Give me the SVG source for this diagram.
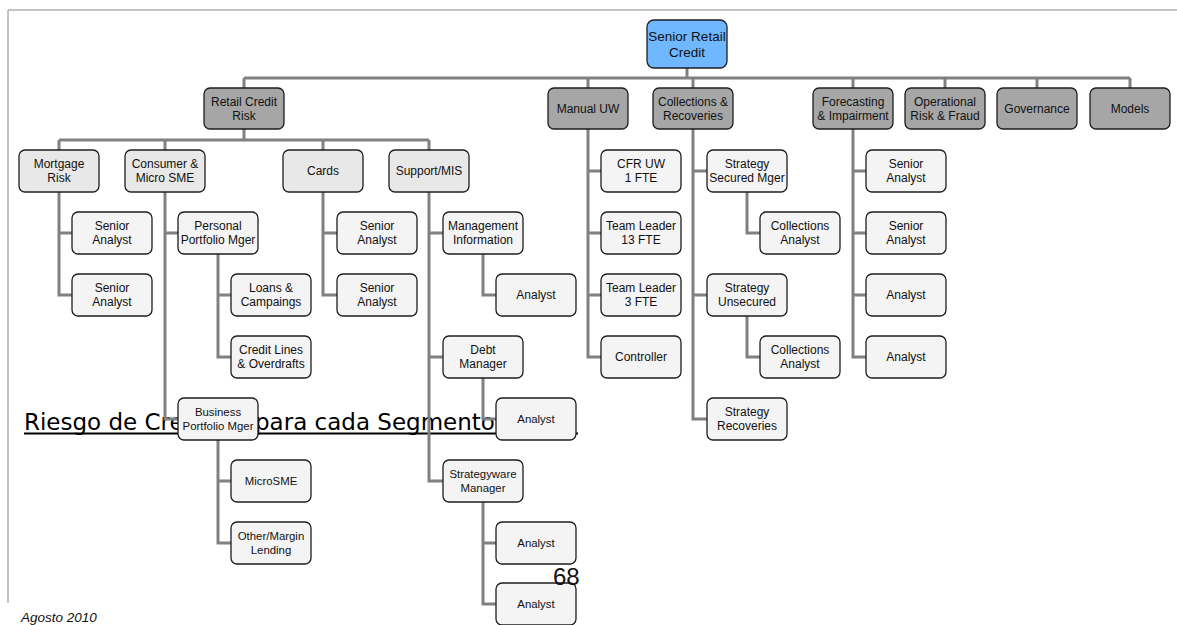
<svg xmlns="http://www.w3.org/2000/svg" width="1177" height="625" viewBox="0 0 1177 625">
<style>
.frame{fill:none;stroke:#b0b0b0;stroke-width:1.5}
.c{fill:none;stroke:#808080;stroke-width:3;stroke-linejoin:miter}
.b{stroke:#1e1e1e;stroke-width:1.3}
.root{fill:#6fb7ff}
.l1{fill:#a6a6a6}
.l2{fill:#e8e8e8}
.lf{fill:#f4f4f4}
text{font-family:"Liberation Sans",Arial,sans-serif;fill:#111}
.t{font-size:12px;text-anchor:middle}
.s{font-size:11.4px;text-anchor:middle}
.r{font-size:13.5px;text-anchor:middle}
.title{font-family:"DejaVu Sans",Verdana,sans-serif;font-size:23px;fill:#000}
</style>
<g id="frame">
<path class="frame" d="M8,10 H1177 M8,10 V603"/>
</g>
<g id="title">
<text class="title" x="24" y="430">Riesgo de Cre<tspan x="255">para cada Segmento</tspan></text>
<line x1="24" y1="433.5" x2="578" y2="433.5" stroke="#000" stroke-width="1.8"/>
</g>
<g id="connectors">
<path class="c" d="M687,68 V78 M244,78 H1130 M244,78 V88 M588,78 V88 M693,78 V88 M853,78 V88 M945,78 V88 M1037,78 V88 M1130,78 V88"/>
<path class="c" d="M244,129 V140 M59,140 H429 M59,140 V150 M165,140 V150 M323,140 V150 M429,140 V150"/>
<path class="c" d="M59,192 V295 H72 M59,233 H72"/>
<path class="c" d="M165,192 V419 H178 M165,233 H178"/>
<path class="c" d="M218,254 V357 H231 M218,295 H231"/>
<path class="c" d="M218,440 V543 H231 M218,481 H231"/>
<path class="c" d="M323,192 V295 H337 M323,233 H337"/>
<path class="c" d="M429,192 V481 H443 M429,233 H443 M429,357 H443"/>
<path class="c" d="M483,254 V295 H496"/>
<path class="c" d="M483,378 V419 H496"/>
<path class="c" d="M483,502 V604 H496 M483,543 H496"/>
<path class="c" d="M588,129 V357 H601 M588,171 H601 M588,233 H601 M588,295 H601"/>
<path class="c" d="M693,129 V419 H707 M693,171 H707 M693,295 H707"/>
<path class="c" d="M747,192 V233 H760"/>
<path class="c" d="M747,316 V357 H760"/>
<path class="c" d="M853,129 V357 H866 M853,171 H866 M853,233 H866 M853,295 H866"/>
</g>
<g id="n-root"><rect class="b root" x="647" y="20" width="80" height="48" rx="7"/><text class="r"><tspan x="687" y="40.5">Senior Retail</tspan><tspan x="687" y="56.5">Credit</tspan></text></g>
<g id="n-rcr"><rect class="b l1" x="204" y="88" width="80" height="41" rx="6"/><text class="t"><tspan x="244" y="105.5">Retail Credit</tspan><tspan x="244" y="119.5">Risk</tspan></text></g>
<g id="n-muw"><rect class="b l1" x="548" y="88" width="80" height="41" rx="6"/><text class="t" x="588" y="112.5">Manual UW</text></g>
<g id="n-col"><rect class="b l1" x="653" y="88" width="80" height="41" rx="6"/><text class="t"><tspan x="693" y="105.5">Collections &amp;</tspan><tspan x="693" y="119.5">Recoveries</tspan></text></g>
<g id="n-fci"><rect class="b l1" x="813" y="88" width="80" height="41" rx="6"/><text class="t"><tspan x="853" y="105.5">Forecasting</tspan><tspan x="853" y="119.5">&amp; Impairment</tspan></text></g>
<g id="n-orf"><rect class="b l1" x="905" y="88" width="80" height="41" rx="6"/><text class="t"><tspan x="945" y="105.5">Operational</tspan><tspan x="945" y="119.5">Risk &amp; Fraud</tspan></text></g>
<g id="n-gov"><rect class="b l1" x="997" y="88" width="80" height="41" rx="6"/><text class="t" x="1037" y="112.5">Governance</text></g>
<g id="n-mod"><rect class="b l1" x="1090" y="88" width="80" height="41" rx="6"/><text class="t" x="1130" y="112.5">Models</text></g>
<g id="n-mortgage"><rect class="b l2" x="19" y="150" width="80" height="42" rx="6"/><text class="t"><tspan x="59" y="168">Mortgage</tspan><tspan x="59" y="182">Risk</tspan></text></g>
<g id="n-consumer"><rect class="b l2" x="125" y="150" width="80" height="42" rx="6"/><text class="t"><tspan x="165" y="168">Consumer &amp;</tspan><tspan x="165" y="182">Micro SME</tspan></text></g>
<g id="n-cards"><rect class="b l2" x="283" y="150" width="80" height="42" rx="6"/><text class="t" x="323" y="175">Cards</text></g>
<g id="n-support"><rect class="b l2" x="389" y="150" width="80" height="42" rx="6"/><text class="t" x="429" y="175">Support/MIS</text></g>
<g id="n-mr-sa1"><rect class="b lf" x="72" y="212" width="80" height="42" rx="6"/><text class="t"><tspan x="112" y="230">Senior</tspan><tspan x="112" y="244">Analyst</tspan></text></g>
<g id="n-mr-sa2"><rect class="b lf" x="72" y="274" width="80" height="42" rx="6"/><text class="t"><tspan x="112" y="292">Senior</tspan><tspan x="112" y="306">Analyst</tspan></text></g>
<g id="n-ppm"><rect class="b lf" x="178" y="212" width="80" height="42" rx="6"/><text class="t"><tspan x="218" y="230">Personal</tspan><tspan x="218" y="244">Portfolio Mger</tspan></text></g>
<g id="n-loans"><rect class="b lf" x="231" y="274" width="80" height="42" rx="6"/><text class="t"><tspan x="271" y="292">Loans &amp;</tspan><tspan x="271" y="306">Campaings</tspan></text></g>
<g id="n-clo"><rect class="b lf" x="231" y="336" width="80" height="42" rx="6"/><text class="t"><tspan x="271" y="354">Credit Lines</tspan><tspan x="271" y="368">&amp; Overdrafts</tspan></text></g>
<g id="n-bpm"><rect class="b lf" x="178" y="398" width="80" height="42" rx="6"/><text class="s"><tspan x="218" y="416">Business</tspan><tspan x="218" y="430">Portfolio Mger</tspan></text></g>
<g id="n-microsme"><rect class="b lf" x="231" y="460" width="80" height="42" rx="6"/><text class="s" x="271" y="485">MicroSME</text></g>
<g id="n-oml"><rect class="b lf" x="231" y="522" width="80" height="42" rx="6"/><text class="s"><tspan x="271" y="540">Other/Margin</tspan><tspan x="271" y="554">Lending</tspan></text></g>
<g id="n-cards-sa1"><rect class="b lf" x="337" y="212" width="80" height="42" rx="6"/><text class="t"><tspan x="377" y="230">Senior</tspan><tspan x="377" y="244">Analyst</tspan></text></g>
<g id="n-cards-sa2"><rect class="b lf" x="337" y="274" width="80" height="42" rx="6"/><text class="t"><tspan x="377" y="292">Senior</tspan><tspan x="377" y="306">Analyst</tspan></text></g>
<g id="n-mi"><rect class="b lf" x="443" y="212" width="80" height="42" rx="6"/><text class="t"><tspan x="483" y="230">Management</tspan><tspan x="483" y="244">Information</tspan></text></g>
<g id="n-mi-an"><rect class="b lf" x="496" y="274" width="80" height="42" rx="6"/><text class="t" x="536" y="299">Analyst</text></g>
<g id="n-debt"><rect class="b lf" x="443" y="336" width="80" height="42" rx="6"/><text class="t"><tspan x="483" y="354">Debt</tspan><tspan x="483" y="368">Manager</tspan></text></g>
<g id="n-debt-an"><rect class="b lf" x="496" y="398" width="80" height="42" rx="6"/><text class="s" x="536" y="423">Analyst</text></g>
<g id="n-swm"><rect class="b lf" x="443" y="460" width="80" height="42" rx="6"/><text class="s"><tspan x="483" y="478">Strategyware</tspan><tspan x="483" y="492">Manager</tspan></text></g>
<g id="n-swm-an1"><rect class="b lf" x="496" y="522" width="80" height="42" rx="6"/><text class="s" x="536" y="547">Analyst</text></g>
<g id="n-swm-an2"><rect class="b lf" x="496" y="583" width="80" height="42" rx="6"/><text class="s" x="536" y="608">Analyst</text></g>
<g id="n-cfr"><rect class="b lf" x="601" y="150" width="80" height="42" rx="6"/><text class="t"><tspan x="641" y="168">CFR UW</tspan><tspan x="641" y="182">1 FTE</tspan></text></g>
<g id="n-tl13"><rect class="b lf" x="601" y="212" width="80" height="42" rx="6"/><text class="t"><tspan x="641" y="230">Team Leader</tspan><tspan x="641" y="244">13 FTE</tspan></text></g>
<g id="n-tl3"><rect class="b lf" x="601" y="274" width="80" height="42" rx="6"/><text class="t"><tspan x="641" y="292">Team Leader</tspan><tspan x="641" y="306">3 FTE</tspan></text></g>
<g id="n-ctrl"><rect class="b lf" x="601" y="336" width="80" height="42" rx="6"/><text class="t" x="641" y="361">Controller</text></g>
<g id="n-ssm"><rect class="b lf" x="707" y="150" width="80" height="42" rx="6"/><text class="t"><tspan x="747" y="168">Strategy</tspan><tspan x="747" y="182">Secured Mger</tspan></text></g>
<g id="n-ca1"><rect class="b lf" x="760" y="212" width="80" height="42" rx="6"/><text class="t"><tspan x="800" y="230">Collections</tspan><tspan x="800" y="244">Analyst</tspan></text></g>
<g id="n-su"><rect class="b lf" x="707" y="274" width="80" height="42" rx="6"/><text class="t"><tspan x="747" y="292">Strategy</tspan><tspan x="747" y="306">Unsecured</tspan></text></g>
<g id="n-ca2"><rect class="b lf" x="760" y="336" width="80" height="42" rx="6"/><text class="t"><tspan x="800" y="354">Collections</tspan><tspan x="800" y="368">Analyst</tspan></text></g>
<g id="n-sr"><rect class="b lf" x="707" y="398" width="80" height="42" rx="6"/><text class="t"><tspan x="747" y="416">Strategy</tspan><tspan x="747" y="430">Recoveries</tspan></text></g>
<g id="n-f-sa1"><rect class="b lf" x="866" y="150" width="80" height="42" rx="6"/><text class="t"><tspan x="906" y="168">Senior</tspan><tspan x="906" y="182">Analyst</tspan></text></g>
<g id="n-f-sa2"><rect class="b lf" x="866" y="212" width="80" height="42" rx="6"/><text class="t"><tspan x="906" y="230">Senior</tspan><tspan x="906" y="244">Analyst</tspan></text></g>
<g id="n-f-an1"><rect class="b lf" x="866" y="274" width="80" height="42" rx="6"/><text class="t" x="906" y="299">Analyst</text></g>
<g id="n-f-an2"><rect class="b lf" x="866" y="336" width="80" height="42" rx="6"/><text class="t" x="906" y="361">Analyst</text></g>
<g id="footer">
<text x="553" y="585" style="font-size:24px">68</text>
<text x="21" y="622" style="font-size:13.5px;font-style:italic">Agosto 2010</text>
</g>
</svg>
